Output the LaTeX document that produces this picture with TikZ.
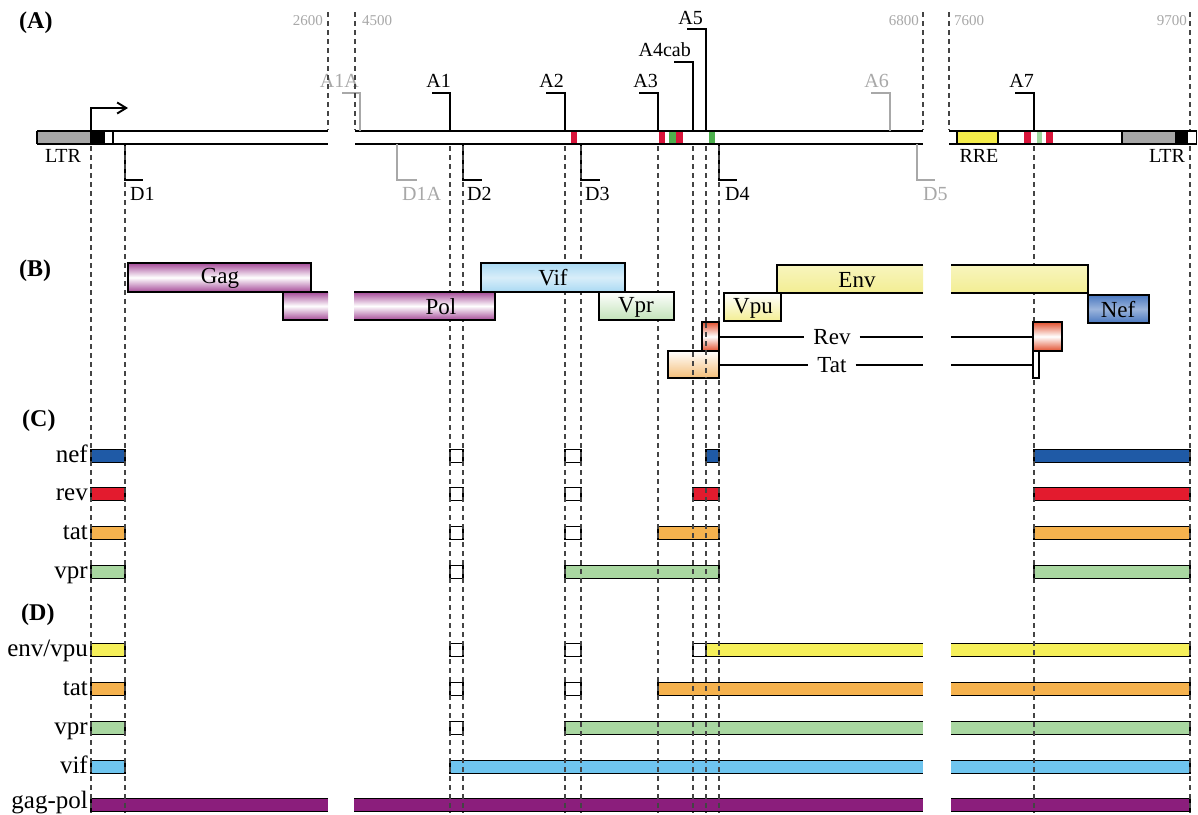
\documentclass[tikz,border=0pt]{standalone}
\usepackage{fontspec}
\setmainfont{Liberation Serif}
\usetikzlibrary{arrows.meta}
\definecolor{cnef}{HTML}{1F5AA6}
\definecolor{crev}{HTML}{E31B2E}
\definecolor{ctat}{HTML}{F5B24E}
\definecolor{cvpr}{HTML}{A9D7A1}
\definecolor{cenv}{HTML}{F6F05A}
\definecolor{cvif}{HTML}{6FC5EF}
\definecolor{cgag}{HTML}{8B1E7C}
\definecolor{dgray}{HTML}{444444}
\definecolor{lgray}{HTML}{A8A8A8}
\definecolor{ltrgray}{HTML}{A6A6A6}
\definecolor{mred}{HTML}{D8143A}
\definecolor{mgreen}{HTML}{4DB04D}
\definecolor{lgreen}{HTML}{9ED89E}
\definecolor{rreyel}{HTML}{F4EC4A}
\definecolor{sgag}{HTML}{A54A98}
\definecolor{svif}{HTML}{A9D9F3}
\definecolor{svpr}{HTML}{C2E3B8}
\definecolor{senv}{HTML}{F3EE93}
\definecolor{snef}{HTML}{4A78C0}
\definecolor{srev}{HTML}{E2502E}
\definecolor{stat}{HTML}{F4BE78}
\newcommand\gbar[4]{\filldraw[fill=#1,draw=black,line width=1.5pt] (#2,{#4-6.5}) rectangle (#3,{#4+6.5});}
\newcommand\gbarR[4]{\fill[#1] (#2,{#4-6.5}) rectangle (#3,{#4+6.5});
  \draw[line width=1.5pt] (#3,{#4-6.5}) -- (#2,{#4-6.5}) -- (#2,{#4+6.5}) -- (#3,{#4+6.5});}
\newcommand\gbarL[4]{\fill[#1] (#2,{#4-6.5}) rectangle (#3,{#4+6.5});
  \draw[line width=1.5pt] (#2,{#4-6.5}) -- (#3,{#4-6.5}) -- (#3,{#4+6.5}) -- (#2,{#4+6.5});}
\newcommand\gbarO[4]{\fill[#1] (#2,{#4-6.5}) rectangle (#3,{#4+6.5});
  \draw[line width=1.5pt] (#2,{#4-6.5}) -- (#3,{#4-6.5}) (#2,{#4+6.5}) -- (#3,{#4+6.5});}
\begin{document}
\begin{tikzpicture}[x=1pt,y=-1pt,
  dashv/.style={draw=dgray,line width=1.1pt,dash pattern=on 5pt off 4pt},
  bl/.style={line width=1.9pt},
  bx/.style={draw=black,line width=1.6pt},
  lab/.style={font=\fontsize{20}{22}\selectfont,inner sep=0pt},
  glab/.style={lab,text=lgray},
  blab/.style={font=\fontsize{23}{25}\selectfont,inner sep=0pt},
  num/.style={font=\fontsize{15}{17}\selectfont,text=lgray,inner sep=0pt},
  rowlab/.style={font=\fontsize{25}{27}\selectfont,inner sep=0pt,anchor=base east},
  sec/.style={font=\bfseries\fontsize{24}{26}\selectfont,inner sep=0pt,anchor=base west},
  brk/.style={line width=1.7pt},
  gbrk/.style={line width=1.7pt,draw=lgray},
  sym/.style={top color=#1,bottom color=#1,middle color=white},
]
\useasboundingbox (0,0) rectangle (1198,814);
\fill[white] (0,0) rectangle (1198,814);

% ---------- section labels
\node[sec] (secA) at (19,28) {(A)};
\node[sec] (secB) at (19,276) {(B)};
\node[sec] (secC) at (22,426) {(C)};
\node[sec] (secD) at (21,620) {(D)};

% ---------- genome bar (A)
\fill[ltrgray] (37,131) rectangle (91,144);
\fill[black] (91,131) rectangle (104,144);
\draw[bl] (37,131) -- (328,131) (37,144) -- (328,144);
\draw[line width=1.5pt] (37,131) -- (37,144) (104,131) -- (104,144) (113,131) -- (113,144) (91,131) -- (91,144);
\draw[bl] (355,131) -- (923,131) (355,144) -- (923,144);
\fill[rreyel] (957,132) rectangle (998,143);
\fill[ltrgray] (1122,132) rectangle (1175,143);
\fill[black] (1175,131) rectangle (1188,144);
\draw[bl] (949,131) -- (1197,131) (949,144) -- (1197,144);
\draw[line width=1.5pt] (957,131) -- (957,144) (998,131) -- (998,144) (1122,131) -- (1122,144) (1196.5,131) -- (1196.5,144);
% splice marks
\fill[mred] (571,132) rectangle (577,143);
\fill[mred] (659,132) rectangle (665,143);
\fill[mgreen] (669,132) rectangle (676,143);
\fill[mred] (676,132) rectangle (683,143);
\fill[mgreen] (709,132) rectangle (715,143);
\fill[mred] (1024,132) rectangle (1031,143);
\fill[lgreen] (1037,132) rectangle (1042,143);
\fill[mred] (1046,132) rectangle (1053,143);
% promoter arrow
\draw[line width=1.9pt,-{Straight Barb[length=9pt,width=11pt]}] (91,131) -- (91,108) -- (128,108);
\node[lab,anchor=base] (ltrL) at (63,162) {LTR};
\node[lab,anchor=base] (ltrR) at (1167,162) {LTR};
\node[lab,anchor=base] (rre) at (979,162) {RRE};

% numbers
\node[num,anchor=base east] (n2600) at (323,25) {2600};
\node[num,anchor=base west] (n4500) at (362,25) {4500};
\node[num,anchor=base east] (n6800) at (919,25) {6800};
\node[num,anchor=base west] (n7600) at (954,25) {7600};
\node[num,anchor=base east] (n9700) at (1187,25) {9700};

% acceptor brackets
\draw[gbrk] (360,131) -- (360,93) -- (342,93);
\node[glab,anchor=base east] (lA1A) at (359,87) {A1A};
\draw[brk] (450,131) -- (450,93) -- (432,93);
\node[lab,anchor=base east] (lA1) at (451,87) {A1};
\draw[brk] (565,131) -- (565,93) -- (546,93);
\node[lab,anchor=base east] (lA2) at (564,87) {A2};
\draw[brk] (658,131) -- (658,93) -- (639,93);
\node[lab,anchor=base east] (lA3) at (658,87) {A3};
\draw[brk] (693,131) -- (693,62) -- (674,62);
\node[lab,anchor=base east] (lA4) at (691,56) {A4cab};
\draw[brk] (706,131) -- (706,29) -- (687,29);
\node[lab,anchor=base east] (lA5) at (703,24) {A5};
\draw[gbrk] (890,131) -- (890,93) -- (871,93);
\node[glab,anchor=base east] (lA6) at (889,87) {A6};
\draw[brk] (1034,131) -- (1034,93) -- (1015,93);
\node[lab,anchor=base east] (lA7) at (1034,87) {A7};
% donor brackets
\draw[brk] (125,144) -- (125,180) -- (143,180);
\node[lab,anchor=base west] (lD1) at (130,200) {D1};
\draw[gbrk] (397,144) -- (397,180) -- (417,180);
\node[glab,anchor=base west] (lD1A) at (402,200) {D1A};
\draw[brk] (463,144) -- (463,180) -- (482,180);
\node[lab,anchor=base west] (lD2) at (467,200) {D2};
\draw[brk] (581,144) -- (581,180) -- (600,180);
\node[lab,anchor=base west] (lD3) at (585,200) {D3};
\draw[brk] (719,144) -- (719,180) -- (737,180);
\node[lab,anchor=base west] (lD4) at (725,200) {D4};
\draw[gbrk] (917,144) -- (917,180) -- (935,180);
\node[glab,anchor=base west] (lD5) at (923,200) {D5};

% ---------- section C
\gbar{cnef}{91}{125}{456} \gbar{white}{450}{463}{456} \gbar{white}{565}{581}{456}
\gbar{cnef}{706}{719}{456} \gbar{cnef}{1034}{1190}{456}
\gbar{crev}{91}{125}{494} \gbar{white}{450}{463}{494} \gbar{white}{565}{581}{494}
\gbar{crev}{693}{719}{494} \gbar{crev}{1034}{1190}{494}
\gbar{ctat}{91}{125}{533} \gbar{white}{450}{463}{533} \gbar{white}{565}{581}{533}
\gbar{ctat}{658}{719}{533} \gbar{ctat}{1034}{1190}{533}
\gbar{cvpr}{91}{125}{572} \gbar{white}{450}{463}{572}
\gbar{cvpr}{565}{719}{572} \gbar{cvpr}{1034}{1190}{572}

% ---------- section D
\gbar{cenv}{91}{125}{650} \gbar{white}{450}{463}{650} \gbar{white}{565}{581}{650}
\gbar{white}{693}{706}{650} \gbarR{cenv}{706}{923}{650} \gbarL{cenv}{951}{1190}{650}
\gbar{ctat}{91}{125}{689} \gbar{white}{450}{463}{689} \gbar{white}{565}{581}{689}
\gbarR{ctat}{658}{923}{689} \gbarL{ctat}{951}{1190}{689}
\gbar{cvpr}{91}{125}{728} \gbar{white}{450}{463}{728}
\gbarR{cvpr}{565}{923}{728} \gbarL{cvpr}{951}{1190}{728}
\gbar{cvif}{91}{125}{767}
\gbarR{cvif}{450}{923}{767} \gbarL{cvif}{951}{1190}{767}
\gbarR{cgag}{91}{328}{805} \gbarO{cgag}{354}{923}{805} \gbarL{cgag}{951}{1190}{805}

% ---------- dashed guide lines
\foreach \xx in {91,125,450,463,565,581,658,693,706,719,1034}
  \draw[dashv] (\xx,146) -- (\xx,813);
\draw[dashv] (1190,12) -- (1190,130) (1190,146) -- (1190,813);
\foreach \xx in {328,355,923,949}
  \draw[dashv] (\xx,12) -- (\xx,130);

% ---------- section B
\shade[sym=sgag] (283,292) rectangle (328,320);
\draw[bx] (328,292) -- (283,292) -- (283,320) -- (328,320);
\shade[sym=sgag] (354,292) rectangle (495,320);
\draw[bx] (354,292) -- (495,292) -- (495,320) -- (354,320);
\shade[sym=sgag] (128,263) rectangle (311,292);
\draw[bx] (128,263) rectangle (311,292);
\shade[top color=svif,bottom color=svif,middle color=white!55!svif] (481,263) rectangle (625,292);
\draw[bx] (481,263) rectangle (625,292);
\shade[top color=white,bottom color=svpr] (599,292) rectangle (674,320);
\draw[bx] (599,292) rectangle (674,320);
\shade[top color=white!40!senv,bottom color=senv] (777,265) rectangle (923,293);
\draw[bx] (923,265) -- (777,265) -- (777,293) -- (923,293);
\shade[top color=white!40!senv,bottom color=senv] (951,265) rectangle (1088,293);
\draw[bx] (951,265) -- (1088,265) -- (1088,293) -- (951,293);
\shade[top color=white,bottom color=senv] (724,293) rectangle (781,321);
\draw[bx] (724,293) rectangle (781,321);
\shade[top color=snef,bottom color=snef,middle color=white!45!snef] (1088,295) rectangle (1149,323);
\draw[bx] (1088,295) rectangle (1149,323);
\shade[top color=white,bottom color=stat] (668,351) rectangle (719,378);
\draw[bx] (668,351) rectangle (719,378);
\shade[sym=srev] (702,322) rectangle (719,351);
\draw[bx] (702,322) rectangle (719,351);
\shade[sym=srev] (1033,322) rectangle (1062,351);
\draw[bx] (1033,322) rectangle (1062,351);
\filldraw[fill=white,draw=black,line width=1.3pt] (1033,351) rectangle (1039,378);
\draw[dashv] (693,352) -- (693,378) (706,323) -- (706,378);
\coordinate (revA) at (719,337);
\coordinate (revB) at (923,337);
\coordinate (revC) at (951,337);
\coordinate (revD) at (1033,337);
\coordinate (tatA) at (719,365);
\coordinate (tatB) at (923,365);
\coordinate (tatC) at (951,365);
\coordinate (tatD) at (1033,365);

% ---------- B labels
\node[blab] (gag) at (220,278) {Gag};
\node[blab] (pol) at (441,307) {Pol};
\node[blab] (vif) at (553,278) {Vif};
\node[blab] (vpr) at (636,307) {Vpr};
\node[blab] (env) at (857,280) {Env};
\node[blab] (vpu) at (753,308) {Vpu};
\node[blab] (nef) at (1118,310) {Nef};
\node[blab,fill=white,inner xsep=9pt,inner ysep=1pt] (rev) at (832,337) {Rev};
\node[blab,fill=white,inner xsep=9pt,inner ysep=1pt] (tat) at (832,365) {Tat};
\draw[line width=1.6pt] (revA) -- (rev.west) (rev.east) -- (revB) (revC) -- (revD);
\draw[line width=1.6pt] (tatA) -- (tat.west) (tat.east) -- (tatB) (tatC) -- (tatD);

% ---------- row labels
\node[rowlab] (rnef) at (88,462) {nef};
\node[rowlab] (rrev) at (88,500) {rev};
\node[rowlab] (rtat) at (88,539) {tat};
\node[rowlab] (rvpr) at (88,578) {vpr};
\node[rowlab] (renv) at (88,656) {env/vpu};
\node[rowlab] (rtat2) at (88,695) {tat};
\node[rowlab] (rvpr2) at (88,734) {vpr};
\node[rowlab] (rvif) at (88,773) {vif};
\node[rowlab] (rgag) at (88,808) {gag-pol};
\end{tikzpicture}
\end{document}
